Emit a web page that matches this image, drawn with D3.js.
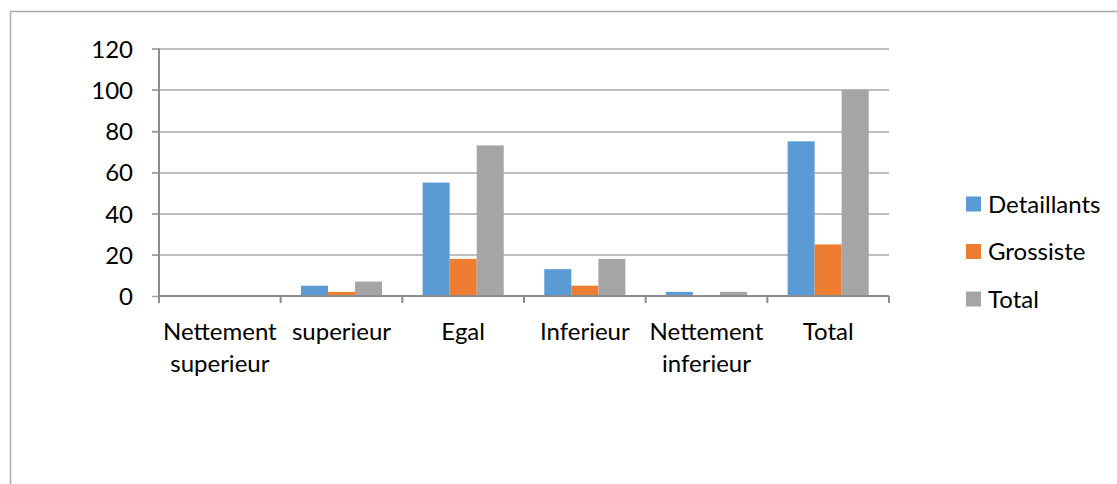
<!DOCTYPE html>
<html>
<head>
<meta charset="utf-8">
<script src="https://cdnjs.cloudflare.com/ajax/libs/d3/7.8.5/d3.min.js"></script>
<style>
  body { margin: 0; background: #fff; }
  text { font-family: "Lato", "Open Sans", sans-serif; fill: #000; }
</style>
</head>
<body>
<div id="chart"></div>
<script>
// chart values
var categories = ["Nettement superieur", "superieur", "Egal", "Inferieur", "Nettement inferieur", "Total"];
var seriesNames = ["Detaillants", "Grossiste", "Total"];
var detaillants = [0, 5, 55, 13, 2, 75];
var grossiste = [0, 2, 18, 5, 0, 25];
var totalValues = [0, 7, 73, 18, 2, 100];
var yTicks = [0, 20, 40, 60, 80, 100, 120];
var colors = ["#5B9BD5", "#ED7D31", "#A5A5A5"];

var svgWidth = 1117;
var svgHeight = 484;
var margin = { top: 48.5, left: 159, right: 228, bottom: 188 };
var width = svgWidth - margin.left - margin.right;
var height = svgHeight - margin.top - margin.bottom;
var fontSize = "24px";

var svg = d3.select("#chart")
  .append("svg")
  .attr("width", svgWidth)
  .attr("height", svgHeight);

// outer chart border (only top and left are inside the picture)
svg.append("rect")
  .attr("x", 10.5)
  .attr("y", 11.5)
  .attr("width", svgWidth + 20)
  .attr("height", svgHeight + 20)
  .attr("fill", "none")
  .attr("stroke", "#ababab")
  .attr("stroke-width", 1.5);

var chartGroup = svg.append("g")
  .attr("transform", `translate(${margin.left}, ${margin.top})`);

var data = categories.map(function(c, i) {
  return { cat: c, values: [detaillants[i], grossiste[i], totalValues[i]] };
});

var x0 = d3.scaleBand()
  .domain(categories)
  .range([0, width])
  .paddingInner(0)
  .paddingOuter(0);

// 150% gap width between groups
var x1 = d3.scaleBand()
  .domain(seriesNames)
  .range([0, x0.bandwidth()])
  .paddingOuter(0.75)
  .paddingInner(0);

var y = d3.scaleLinear()
  .domain([0, 120])
  .range([height, 0]);

// gridlines
chartGroup.append("g")
  .attr("class", "grid")
  .selectAll("line")
  .data(yTicks.slice(1))
  .enter()
  .append("line")
  .attr("x1", -7)
  .attr("x2", width)
  .attr("y1", d => Math.round(y(d)) + 0.5)
  .attr("y2", d => Math.round(y(d)) + 0.5)
  .attr("stroke", "#a9a9a9")
  .attr("stroke-width", 1.5);

// bars
var groups = chartGroup.append("g")
  .selectAll("g")
  .data(data)
  .enter()
  .append("g")
  .attr("transform", d => `translate(${x0(d.cat)}, 0)`);

groups.selectAll("rect")
  .data(d => d.values.map((v, i) => ({ name: seriesNames[i], value: v, i: i })))
  .enter()
  .append("rect")
  .attr("x", d => x1(d.name))
  .attr("y", d => y(d.value))
  .attr("width", x1.bandwidth())
  .attr("height", d => height - y(d.value))
  .attr("fill", d => colors[d.i]);

// y axis
var leftAxis = d3.axisLeft(y)
  .tickValues(yTicks)
  .tickSize(7)
  .tickPadding(19);

var yAxisG = chartGroup.append("g")
  .attr("class", "leftAxis")
  .call(leftAxis);
yAxisG.select(".domain").remove();
yAxisG.selectAll("line").attr("stroke", "#a0a0a0").attr("stroke-width", 1.5);
yAxisG.selectAll("text")
  .attr("font-size", fontSize)
  .attr("dy", "0.36em")
  .style("font-family", "Lato");

chartGroup.append("line")
  .attr("x1", 0).attr("x2", 0)
  .attr("y1", 0).attr("y2", height + 7)
  .attr("stroke", "#8c8c8c")
  .attr("stroke-width", 2);

// x axis
var bottomAxis = d3.axisBottom(x0)
  .tickSize(0)
  .tickPadding(27);

var xAxisG = chartGroup.append("g")
  .attr("class", "bottomAxis")
  .attr("transform", `translate(0, ${height})`)
  .call(bottomAxis);
xAxisG.select(".domain")
  .attr("stroke", "#8c8c8c")
  .attr("stroke-width", 2)
  .attr("d", `M0,0H${width}`);

// category boundary ticks
xAxisG.append("g")
  .selectAll("line")
  .data(categories.concat(["end"]))
  .enter()
  .append("line")
  .attr("x1", (d, i) => i * x0.step())
  .attr("x2", (d, i) => i * x0.step())
  .attr("y1", 0)
  .attr("y2", 7)
  .attr("stroke", "#8c8c8c")
  .attr("stroke-width", 2);

xAxisG.selectAll(".tick text")
  .attr("font-size", fontSize)
  .style("font-family", "Lato")
  .call(wrap, x0.bandwidth() - 4);

function wrap(texts, w) {
  texts.each(function() {
    var text = d3.select(this);
    var words = text.text().split(/\s+/);
    var yPos = text.attr("y");
    var line = [];
    var lineNo = 0;
    var tspan = text.text(null).append("tspan").attr("x", 0).attr("y", yPos).attr("dy", "0.71em");
    words.forEach(function(word) {
      line.push(word);
      tspan.text(line.join(" "));
      if (tspan.node().getComputedTextLength() > w && line.length > 1) {
        line.pop();
        tspan.text(line.join(" "));
        line = [word];
        lineNo++;
        tspan = text.append("tspan").attr("x", 0).attr("y", yPos)
          .attr("dy", (0.71 + lineNo * 1.33) + "em").text(word);
      }
    });
  });
}

// legend
var legend = svg.append("g")
  .attr("transform", "translate(966, 204)");

var legendItems = legend.selectAll("g")
  .data(seriesNames)
  .enter()
  .append("g")
  .attr("transform", (d, i) => `translate(0, ${i * 47.5})`);

legendItems.append("rect")
  .attr("x", 0)
  .attr("y", -7.5)
  .attr("width", 15)
  .attr("height", 15)
  .attr("fill", (d, i) => colors[i]);

legendItems.append("text")
  .attr("x", 22)
  .attr("y", 0)
  .attr("dy", "0.36em")
  .attr("font-size", fontSize)
  .text(d => d);
</script>
</body>
</html>
